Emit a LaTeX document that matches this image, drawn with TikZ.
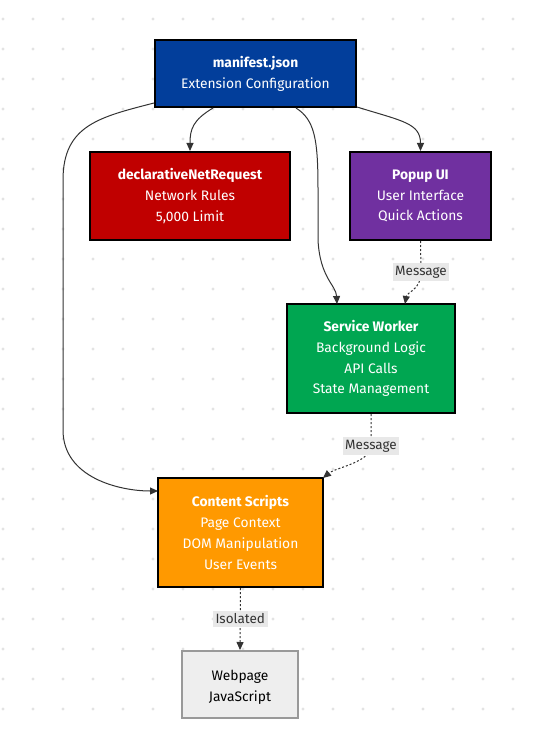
\documentclass[tikz,border=0pt]{standalone}
\usepackage{fontspec}
\setmainfont{Fira Sans}
\usetikzlibrary{arrows.meta,calc}
\definecolor{manblue}{HTML}{023E9B}
\definecolor{dnrred}{HTML}{C00000}
\definecolor{poppurple}{HTML}{7030A0}
\definecolor{swgreen}{HTML}{00A651}
\definecolor{csorange}{HTML}{FF9900}
\definecolor{webgray}{HTML}{EEEEEE}
\definecolor{webborder}{HTML}{999999}
\definecolor{edgec}{HTML}{333333}
\definecolor{lblbg}{HTML}{E8E8E8}
\definecolor{dotc}{HTML}{E3E3E3}
\tikzset{
  box/.style={draw=black, line width=2pt, text=white, align=center, inner sep=0pt,
    font=\fontsize{13.8}{20.8}\selectfont},
  webbox/.style={draw=webborder, line width=2pt, fill=webgray, text=black, align=center, inner sep=0pt,
    font=\fontsize{13.8}{20.8}\selectfont},
  conn/.style={draw=edgec, line width=1pt, -{Triangle[length=8pt,width=7pt]}},
  dotconn/.style={conn, dash pattern=on 2pt off 2pt},
  lbl/.style={fill=lblbg, text=edgec, inner sep=2.5pt, font=\fontsize{13.5}{15}\selectfont}
}
\begin{document}
\begin{tikzpicture}[x=1pt,y=-1pt]
\useasboundingbox (0,0) rectangle (535,730);
\fill[white] (0,0) rectangle (535,730);
\foreach \i in {0,...,17}{\foreach \j in {0,...,23}{
  \fill[dotc] (3+30*\i,19+30*\j) circle (1.6pt);}}

\node[box, fill=manblue, minimum width=201pt, minimum height=67pt] (man) at (255.5,73.5)
  {\textbf{manifest.json}\\Extension Configuration};
\node[box, fill=dnrred, minimum width=200pt, minimum height=88pt] (dnr) at (190,196)
  {\textbf{declarativeNetRequest}\\Network Rules\\5,000 Limit};
\node[box, fill=poppurple, minimum width=141pt, minimum height=88pt] (pop) at (420.5,196)
  {\textbf{Popup UI}\\User Interface\\Quick Actions};
\node[box, fill=swgreen, minimum width=168pt, minimum height=109pt] (sw) at (371,358.5)
  {\textbf{Service Worker}\\Background Logic\\API Calls\\State Management};
\node[box, fill=csorange, minimum width=165pt, minimum height=109pt] (cs) at (240.5,532.5)
  {\textbf{Content Scripts}\\Page Context\\DOM Manipulation\\User Events};
\node[webbox, minimum width=116pt, minimum height=67pt] (web) at (240,684.5)
  {\rule{0pt}{16pt}Webpage\\JavaScript};

\coordinate (sw-in) at (337,304);
\coordinate (cs-left) at (158,491);
\coordinate (pop-sw) at (405,304);
\coordinate (cs-right) at (323,478);

\draw[conn] ($(man.south west)+(59,0)$) .. controls +(-20,12) and +(0,-22) .. (dnr.north);
\draw[conn] ($(man.south east)+(0,-1)$) .. controls +(45,14) and +(0,-28) .. (pop.north);
\draw[conn] ($(man.south west)+(142,0)$) .. controls (315,120) and (318,140) .. (318,190)
   -- (318,240) .. controls (320,278) and (336,285) .. (sw-in);
\draw[conn] ($(man.south west)+(0,-5)$) .. controls (100,117) and (63,125) .. (63,180)
   -- (63,430) .. controls (63,478) and (120,491) .. (cs-left);
\draw[dotconn] (pop.south) -- (421,272) node[lbl] {Message}
   .. controls (421,290) and (407,292) .. (pop-sw);
\draw[dotconn] (sw.south) -- (371,446) node[lbl] {Message}
   .. controls (371,462) and (335,468) .. (cs-right);
\draw[dotconn] (cs.south) -- node[lbl] {Isolated} (web.north);
\end{tikzpicture}
\end{document}
